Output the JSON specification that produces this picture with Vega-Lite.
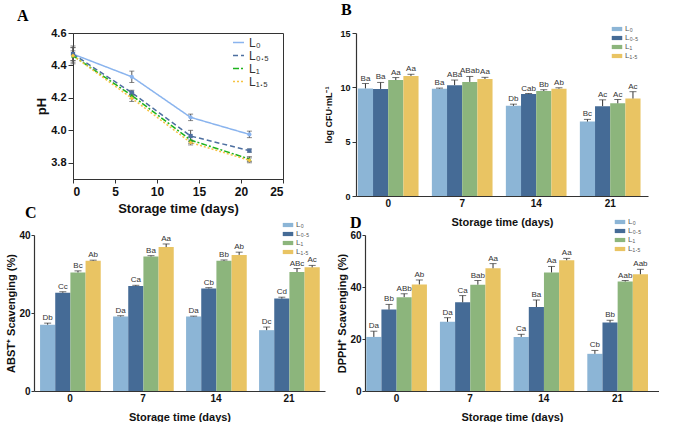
{
  "$schema": "https://vega.github.io/schema/vega-lite/v6.json",
  "padding": {"left": 5, "top": 2, "right": 0, "bottom": 0},
  "background": "white",
  "config": {
    "view": {"stroke": null},
    "font": "Liberation Sans",
    "axis": {"grid": false, "labelFont": "Liberation Sans", "titleFont": "Liberation Sans", "labelColor": "#111", "titleColor": "#111", "domainColor": "#333", "tickColor": "#333", "labelFontWeight": "bold", "titleFontWeight": "bold"},
    "axisY": {"labelOverlap": false},
    "legend": {"labelFont": "Liberation Sans"}
  },
  "resolve": {"scale": {"color": "independent", "x": "independent", "y": "independent"}, "legend": {"color": "independent"}},
  "columns": 1,
  "align": "none",
  "spacing": -22,
  "concat": [
    {
      "spacing": 0,
      "resolve": {"scale": {"color": "independent", "x": "independent", "y": "independent"}, "legend": {"color": "independent"}},
      "hconcat": [
        {"width": 1, "height": 1, "data": {"values": []}, "mark": "point",
         "title": {"text": "A", "anchor": "start", "frame": "group", "dx": -17, "font": "Liberation Serif", "fontSize": 16, "fontWeight": "bold", "offset": 9, "color": "#000"}},
        {
          "spacing": 40,
          "resolve": {"scale": {"color": "independent", "x": "independent", "y": "independent"}, "legend": {"color": "independent"}},
          "hconcat": [
            {
              "width": 210, "height": 146,
              "view": {"stroke": "#333", "strokeWidth": 1},
              "data": {"name": "ph"},
              "layer": [
                {
                  "mark": {"type": "line", "strokeWidth": 1.5},
                  "encoding": {
                    "x": {"field": "day", "type": "quantitative", "title": "Storage time (days)", "scale": {"domain": [0, 25], "nice": false}, "axis": {"values": [0, 5, 10, 15, 20, 25], "labelFontSize": 12, "titleFontSize": 13, "tickSize": 4, "titlePadding": 5, "labelPadding": 3}},
                    "y": {"field": "v", "type": "quantitative", "title": "pH", "scale": {"domain": [3.7, 4.6], "nice": false, "zero": false}, "axis": {"values": [3.8, 4.0, 4.2, 4.4, 4.6], "format": ".1f", "labelOverlap": false, "tickSize": 5, "labelFontSize": 11, "titleFontSize": 13, "titlePadding": 2}},
                    "color": {"field": "g", "type": "nominal", "sort": ["L₀", "L₀.₅", "L₁", "L₁.₅"], "scale": {"domain": ["L₀", "L₀.₅", "L₁", "L₁.₅"], "range": ["#8ab4ee", "#4d6fa0", "#1db31d", "#f6c342"]}, "legend": {"orient": "none", "legendX": 159, "legendY": 3, "title": null, "symbolType": "stroke", "symbolStrokeWidth": 1.5, "symbolSize": 121, "labelFontSize": 12, "labelColor": "#333", "rowPadding": 0, "encode": {"symbols": {"update": {"strokeDash": {"signal": "datum.value == 'L₀.₅' ? [5,3] : datum.value == 'L₁' ? [6,2,2,2] : datum.value == 'L₁.₅' ? [2,2] : [1,0]"}}}}}},
                    "strokeDash": {"field": "g", "type": "nominal", "sort": ["L₀", "L₀.₅", "L₁", "L₁.₅"], "scale": {"domain": ["L₀", "L₀.₅", "L₁", "L₁.₅"], "range": [[1, 0], [5, 3], [6, 2, 2, 2], [2, 2]]}, "legend": null}
                  }
                },
                {
                  "mark": {"type": "rule", "color": "#555", "strokeWidth": 1},
                  "encoding": {
                    "x": {"field": "day", "type": "quantitative"},
                    "y": {"field": "lo", "type": "quantitative", "title": "pH", "axis": {"values": [3.8, 4.0, 4.2, 4.4, 4.6], "format": ".1f", "labelOverlap": false, "tickSize": 5, "labelFontSize": 11, "titleFontSize": 13, "titlePadding": 2}},
                    "y2": {"field": "hi"}
                  }
                },
                {
                  "mark": {"type": "tick", "orient": "horizontal", "color": "#555", "size": 5, "thickness": 1},
                  "encoding": {
                    "x": {"field": "day", "type": "quantitative"},
                    "y": {"field": "lo", "type": "quantitative", "title": "pH", "axis": {"values": [3.8, 4.0, 4.2, 4.4, 4.6], "format": ".1f", "labelOverlap": false, "tickSize": 5, "labelFontSize": 11, "titleFontSize": 13, "titlePadding": 2}}
                  }
                },
                {
                  "mark": {"type": "tick", "orient": "horizontal", "color": "#555", "size": 5, "thickness": 1},
                  "encoding": {
                    "x": {"field": "day", "type": "quantitative"},
                    "y": {"field": "hi", "type": "quantitative", "title": "pH", "axis": {"values": [3.8, 4.0, 4.2, 4.4, 4.6], "format": ".1f", "labelOverlap": false, "tickSize": 5, "labelFontSize": 11, "titleFontSize": 13, "titlePadding": 2}}
                  }
                },
                {
                  "transform": [{"filter": "datum.g == 'L₀'"}],
                  "mark": {"type": "point", "shape": "circle", "filled": true, "size": 18, "opacity": 1, "color": "#8ab4ee"},
                  "encoding": {"x": {"field": "day", "type": "quantitative"}, "y": {"field": "v", "type": "quantitative", "title": "pH", "axis": {"values": [3.8, 4.0, 4.2, 4.4, 4.6], "format": ".1f", "labelOverlap": false, "tickSize": 5, "labelFontSize": 11, "titleFontSize": 13, "titlePadding": 2}}}
                },
                {
                  "transform": [{"filter": "datum.g == 'L₀.₅'"}],
                  "mark": {"type": "point", "shape": "square", "filled": true, "size": 18, "opacity": 1, "color": "#4d6fa0"},
                  "encoding": {"x": {"field": "day", "type": "quantitative"}, "y": {"field": "v", "type": "quantitative", "title": "pH", "axis": {"values": [3.8, 4.0, 4.2, 4.4, 4.6], "format": ".1f", "labelOverlap": false, "tickSize": 5, "labelFontSize": 11, "titleFontSize": 13, "titlePadding": 2}}}
                },
                {
                  "transform": [{"filter": "datum.g == 'L₁'"}],
                  "mark": {"type": "point", "shape": "triangle-up", "filled": true, "size": 18, "opacity": 1, "color": "#1db31d"},
                  "encoding": {"x": {"field": "day", "type": "quantitative"}, "y": {"field": "v", "type": "quantitative", "title": "pH", "axis": {"values": [3.8, 4.0, 4.2, 4.4, 4.6], "format": ".1f", "labelOverlap": false, "tickSize": 5, "labelFontSize": 11, "titleFontSize": 13, "titlePadding": 2}}}
                },
                {
                  "transform": [{"filter": "datum.g == 'L₁.₅'"}],
                  "mark": {"type": "point", "shape": "diamond", "filled": true, "size": 18, "opacity": 1, "color": "#f6c342"},
                  "encoding": {"x": {"field": "day", "type": "quantitative"}, "y": {"field": "v", "type": "quantitative", "title": "pH", "axis": {"values": [3.8, 4.0, 4.2, 4.4, 4.6], "format": ".1f", "labelOverlap": false, "tickSize": 5, "labelFontSize": 11, "titleFontSize": 13, "titlePadding": 2}}}
                }
              ]
            },
            {
              "width": 292, "height": 163,
              "title": {"text": "B", "anchor": "start", "frame": "group", "dx": -15, "font": "Liberation Serif", "fontSize": 16, "fontWeight": "bold", "offset": 7, "color": "#000"},
              "data": {"name": "cfu"},
              "encoding": {
                "x": {"field": "day", "type": "nominal", "sort": ["0", "7", "14", "21"], "scale": {"paddingInner": 0.18, "paddingOuter": 0.063, "align": 0.2}, "axis": {"labelAngle": 0, "ticks": false, "title": "Storage time (days)", "labelFontSize": 10, "titleFontSize": 11, "titlePadding": 8, "domainWidth": 1.2}},
                "xOffset": {"field": "g", "type": "nominal", "sort": ["L₀", "L₀.₅", "L₁", "L₁.₅"]}
              },
              "layer": [
                {
                  "mark": {"type": "bar"},
                  "encoding": {
                    "y": {"field": "v", "type": "quantitative", "scale": {"domain": [0, 15], "nice": false}, "axis": {"values": [0, 5, 10, 15], "tickSize": 4, "title": "log CFU·mL⁻¹", "labelFontSize": 9, "titleFontSize": 9, "titlePadding": 6, "domainWidth": 1.2}},
                    "color": {"field": "g", "type": "nominal", "sort": ["L₀", "L₀.₅", "L₁", "L₁.₅"], "scale": {"domain": ["L₀", "L₀.₅", "L₁", "L₁.₅"], "range": ["#8cb5d6", "#456b96", "#8cb57c", "#e9c463"]}, "legend": {"orient": "none", "legendX": 257, "legendY": -8, "title": null, "symbolType": "M-1.5,-0.6H1.5V0.6H-1.5Z", "symbolSize": 49, "symbolStrokeWidth": 0, "labelFontSize": 8, "labelColor": "#555", "rowPadding": 1}}
                  }
                },
                {
                  "mark": {"type": "rule", "color": "#333", "strokeWidth": 1},
                  "encoding": {"y": {"field": "v", "type": "quantitative"}, "y2": {"field": "top"}}
                },
                {
                  "mark": {"type": "tick", "color": "#333", "size": 7, "thickness": 1},
                  "encoding": {"y": {"field": "top", "type": "quantitative"}}
                },
                {
                  "mark": {"type": "text", "baseline": "bottom", "dy": -1, "fontSize": 8, "color": "#333"},
                  "encoding": {"y": {"field": "top", "type": "quantitative"}, "text": {"field": "lab"}}
                }
              ]
            }
          ]
        }
      ]
    },
    {
      "spacing": 11,
      "resolve": {"scale": {"color": "independent", "x": "independent", "y": "independent"}, "legend": {"color": "independent"}},
      "hconcat": [
        {
          "width": 291, "height": 156,
          "title": {"text": "C", "anchor": "start", "frame": "group", "dx": -9, "font": "Liberation Serif", "fontSize": 16, "fontWeight": "bold", "offset": 0, "color": "#000"},
          "data": {"name": "abts"},
          "encoding": {
            "x": {"field": "day", "type": "nominal", "sort": ["0", "7", "14", "21"], "scale": {"paddingInner": 0.18, "paddingOuter": 0.083}, "axis": {"labelAngle": 0, "ticks": false, "title": "Storage time (days)", "labelFontSize": 10, "titleFontSize": 11, "titlePadding": 8, "domainWidth": 1.2}},
            "xOffset": {"field": "g", "type": "nominal", "sort": ["L₀", "L₀.₅", "L₁", "L₁.₅"]}
          },
          "layer": [
            {
              "mark": {"type": "bar"},
              "encoding": {
                "y": {"field": "v", "type": "quantitative", "scale": {"domain": [0, 40], "nice": false}, "axis": {"values": [0, 10, 20, 30, 40], "labelOverlap": false, "tickSize": 3, "labelPadding": 1, "title": "ABST⁺ Scavenging (%)", "labelFontSize": 10, "titleFontSize": 11, "titlePadding": 2, "domainWidth": 1.2}},
                "color": {"field": "g", "type": "nominal", "sort": ["L₀", "L₀.₅", "L₁", "L₁.₅"], "scale": {"domain": ["L₀", "L₀.₅", "L₁", "L₁.₅"], "range": ["#8cb5d6", "#456b96", "#8cb57c", "#e9c463"]}, "legend": {"orient": "none", "legendX": 250, "legendY": -14, "title": null, "symbolType": "M-1.5,-0.6H1.5V0.6H-1.5Z", "symbolSize": 49, "symbolStrokeWidth": 0, "labelFontSize": 8, "labelColor": "#555", "rowPadding": 1}}
              }
            },
            {
              "mark": {"type": "rule", "color": "#333", "strokeWidth": 1},
              "encoding": {"y": {"field": "v", "type": "quantitative"}, "y2": {"field": "top"}}
            },
            {
              "mark": {"type": "tick", "color": "#333", "size": 7, "thickness": 1},
              "encoding": {"y": {"field": "top", "type": "quantitative"}}
            },
            {
              "mark": {"type": "text", "baseline": "bottom", "dy": -1, "fontSize": 8, "color": "#333"},
              "encoding": {"y": {"field": "top", "type": "quantitative"}, "text": {"field": "lab"}}
            }
          ]
        },
        {
          "width": 294, "height": 156,
          "title": {"text": "D", "anchor": "start", "frame": "group", "dx": -15, "font": "Liberation Serif", "fontSize": 16, "fontWeight": "bold", "offset": -13, "color": "#000"},
          "data": {"name": "dpph"},
          "encoding": {
            "x": {"field": "day", "type": "nominal", "sort": ["0", "7", "14", "21"], "scale": {"paddingInner": 0.18, "paddingOuter": 0.085, "align": 0.1}, "axis": {"labelAngle": 0, "ticks": false, "title": "Storage time (days)", "labelFontSize": 10, "titleFontSize": 11, "titlePadding": 8, "domainWidth": 1.2}},
            "xOffset": {"field": "g", "type": "nominal", "sort": ["L₀", "L₀.₅", "L₁", "L₁.₅"]}
          },
          "layer": [
            {
              "mark": {"type": "bar"},
              "encoding": {
                "y": {"field": "v", "type": "quantitative", "scale": {"domain": [0, 60], "nice": false}, "axis": {"values": [0, 20, 40, 60], "tickSize": 3, "labelPadding": 1, "title": "DPPH⁺ Scavenging (%)", "labelFontSize": 10, "titleFontSize": 11, "titlePadding": 2, "domainWidth": 1.2}},
                "color": {"field": "g", "type": "nominal", "sort": ["L₀", "L₀.₅", "L₁", "L₁.₅"], "scale": {"domain": ["L₀", "L₀.₅", "L₁", "L₁.₅"], "range": ["#8cb5d6", "#456b96", "#8cb57c", "#e9c463"]}, "legend": {"orient": "none", "legendX": 251, "legendY": -17, "title": null, "symbolType": "M-1.5,-0.6H1.5V0.6H-1.5Z", "symbolSize": 49, "symbolStrokeWidth": 0, "labelFontSize": 8, "labelColor": "#555", "rowPadding": 1}}
              }
            },
            {
              "mark": {"type": "rule", "color": "#333", "strokeWidth": 1},
              "encoding": {"y": {"field": "v", "type": "quantitative"}, "y2": {"field": "top"}}
            },
            {
              "mark": {"type": "tick", "color": "#333", "size": 7, "thickness": 1},
              "encoding": {"y": {"field": "top", "type": "quantitative"}}
            },
            {
              "mark": {"type": "text", "baseline": "bottom", "dy": -1, "fontSize": 8, "color": "#333"},
              "encoding": {"y": {"field": "top", "type": "quantitative"}, "text": {"field": "lab"}}
            }
          ]
        }
      ]
    }
  ],
  "datasets": {
    "ph": [
      {"g": "L₀", "day": 0, "v": 4.47, "lo": 4.42, "hi": 4.52},
      {"g": "L₀", "day": 7, "v": 4.33, "lo": 4.295, "hi": 4.365},
      {"g": "L₀", "day": 14, "v": 4.08, "lo": 4.06, "hi": 4.10},
      {"g": "L₀", "day": 21, "v": 3.975, "lo": 3.955, "hi": 3.995},
      {"g": "L₀.₅", "day": 0, "v": 4.47, "lo": 4.43, "hi": 4.51},
      {"g": "L₀.₅", "day": 7, "v": 4.232, "lo": 4.217, "hi": 4.247},
      {"g": "L₀.₅", "day": 14, "v": 3.965, "lo": 3.93, "hi": 4.0},
      {"g": "L₀.₅", "day": 21, "v": 3.875, "lo": 3.865, "hi": 3.885},
      {"g": "L₁", "day": 0, "v": 4.46, "lo": 4.41, "hi": 4.51},
      {"g": "L₁", "day": 7, "v": 4.215, "lo": 4.195, "hi": 4.235},
      {"g": "L₁", "day": 14, "v": 3.94, "lo": 3.92, "hi": 3.96},
      {"g": "L₁", "day": 21, "v": 3.823, "lo": 3.808, "hi": 3.838},
      {"g": "L₁.₅", "day": 0, "v": 4.46, "lo": 4.43, "hi": 4.49},
      {"g": "L₁.₅", "day": 7, "v": 4.198, "lo": 4.178, "hi": 4.218},
      {"g": "L₁.₅", "day": 14, "v": 3.925, "lo": 3.91, "hi": 3.94},
      {"g": "L₁.₅", "day": 21, "v": 3.815, "lo": 3.80, "hi": 3.83}
    ],
    "cfu": [
      {"day": "0", "g": "L₀", "v": 9.9, "top": 10.35, "lab": "Ba"},
      {"day": "0", "g": "L₀.₅", "v": 9.85, "top": 10.45, "lab": "Ba"},
      {"day": "0", "g": "L₁", "v": 10.67, "top": 10.9, "lab": "Aa"},
      {"day": "0", "g": "L₁.₅", "v": 11.05, "top": 11.2, "lab": "Aa"},
      {"day": "7", "g": "L₀", "v": 9.88, "top": 9.93, "lab": "Ba"},
      {"day": "7", "g": "L₀.₅", "v": 10.2, "top": 10.67, "lab": "ABa"},
      {"day": "7", "g": "L₁", "v": 10.5, "top": 11.0, "lab": "ABab"},
      {"day": "7", "g": "L₁.₅", "v": 10.77, "top": 10.92, "lab": "Aa"},
      {"day": "14", "g": "L₀", "v": 8.3, "top": 8.45, "lab": "Db"},
      {"day": "14", "g": "L₀.₅", "v": 9.38, "top": 9.43, "lab": "Cab"},
      {"day": "14", "g": "L₁", "v": 9.66, "top": 9.78, "lab": "Bb"},
      {"day": "14", "g": "L₁.₅", "v": 9.88, "top": 9.96, "lab": "Ab"},
      {"day": "21", "g": "L₀", "v": 6.85, "top": 7.05, "lab": "Bc"},
      {"day": "21", "g": "L₀.₅", "v": 8.27, "top": 8.85, "lab": "Ac"},
      {"day": "21", "g": "L₁", "v": 8.53, "top": 8.88, "lab": "Ac"},
      {"day": "21", "g": "L₁.₅", "v": 8.97, "top": 9.6, "lab": "Ac"}
    ],
    "abts": [
      {"day": "0", "g": "L₀", "v": 17.0, "top": 17.4, "lab": "Db"},
      {"day": "0", "g": "L₀.₅", "v": 25.2, "top": 25.45, "lab": "Cc"},
      {"day": "0", "g": "L₁", "v": 30.4, "top": 30.8, "lab": "Bc"},
      {"day": "0", "g": "L₁.₅", "v": 33.4, "top": 33.55, "lab": "Ab"},
      {"day": "7", "g": "L₀", "v": 19.1, "top": 19.3, "lab": "Da"},
      {"day": "7", "g": "L₀.₅", "v": 26.9, "top": 27.1, "lab": "Ca"},
      {"day": "7", "g": "L₁", "v": 34.5, "top": 34.7, "lab": "Ba"},
      {"day": "7", "g": "L₁.₅", "v": 36.9, "top": 37.7, "lab": "Aa"},
      {"day": "14", "g": "L₀", "v": 19.1, "top": 19.2, "lab": "Da"},
      {"day": "14", "g": "L₀.₅", "v": 26.3, "top": 26.5, "lab": "Cb"},
      {"day": "14", "g": "L₁", "v": 33.4, "top": 33.6, "lab": "Bb"},
      {"day": "14", "g": "L₁.₅", "v": 34.9, "top": 35.6, "lab": "Ab"},
      {"day": "21", "g": "L₀", "v": 15.6, "top": 16.4, "lab": "Dc"},
      {"day": "21", "g": "L₀.₅", "v": 23.7, "top": 24.05, "lab": "Cd"},
      {"day": "21", "g": "L₁", "v": 30.5, "top": 31.4, "lab": "ABc"},
      {"day": "21", "g": "L₁.₅", "v": 31.7, "top": 32.2, "lab": "Ac"}
    ],
    "dpph": [
      {"day": "0", "g": "L₀", "v": 20.8, "top": 23.0, "lab": "Da"},
      {"day": "0", "g": "L₀.₅", "v": 31.3, "top": 33.3, "lab": "Bb"},
      {"day": "0", "g": "L₁", "v": 36.1, "top": 37.4, "lab": "ABb"},
      {"day": "0", "g": "L₁.₅", "v": 41.0, "top": 42.7, "lab": "Ab"},
      {"day": "7", "g": "L₀", "v": 26.6, "top": 28.2, "lab": "Da"},
      {"day": "7", "g": "L₀.₅", "v": 34.1, "top": 36.7, "lab": "Ca"},
      {"day": "7", "g": "L₁", "v": 40.9, "top": 42.5, "lab": "Bab"},
      {"day": "7", "g": "L₁.₅", "v": 47.2, "top": 49.0, "lab": "Aa"},
      {"day": "14", "g": "L₀", "v": 20.8, "top": 21.8, "lab": "Ca"},
      {"day": "14", "g": "L₀.₅", "v": 32.3, "top": 35.0, "lab": "Ba"},
      {"day": "14", "g": "L₁", "v": 45.6, "top": 47.9, "lab": "Aa"},
      {"day": "14", "g": "L₁.₅", "v": 50.3, "top": 51.0, "lab": "Aa"},
      {"day": "21", "g": "L₀", "v": 14.3, "top": 15.6, "lab": "Cb"},
      {"day": "21", "g": "L₀.₅", "v": 26.3, "top": 27.2, "lab": "Bb"},
      {"day": "21", "g": "L₁", "v": 42.1, "top": 42.5, "lab": "Aab"},
      {"day": "21", "g": "L₁.₅", "v": 44.9, "top": 46.8, "lab": "Aab"}
    ]
  }
}
